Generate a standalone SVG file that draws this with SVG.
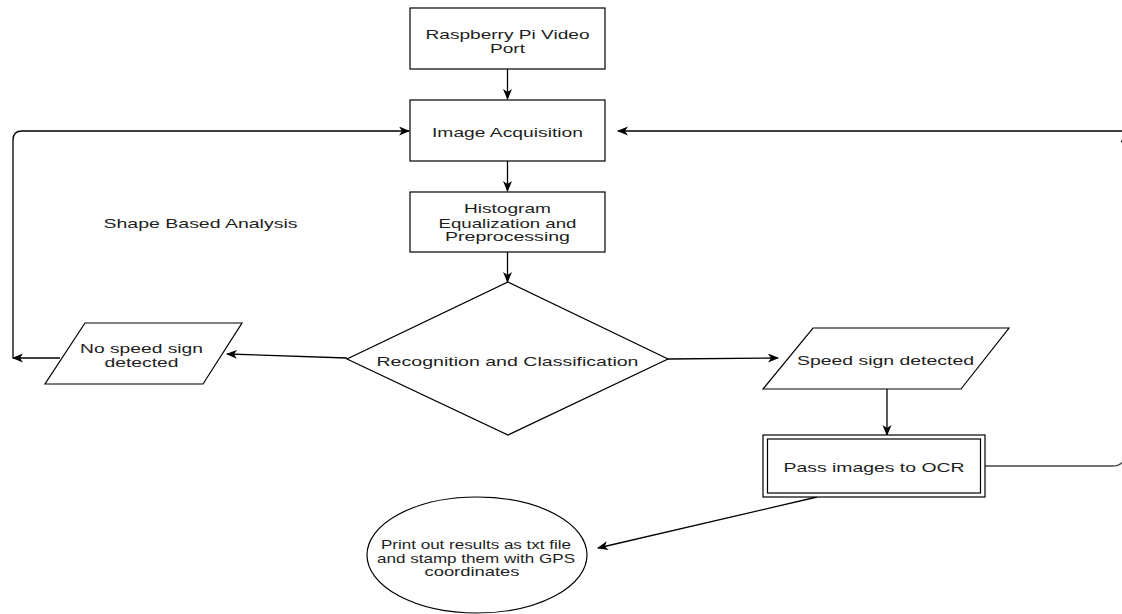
<svg xmlns="http://www.w3.org/2000/svg" width="1122" height="614" viewBox="0 0 1122 614">
<style>
.shape{fill:#fff;stroke:#000;stroke-width:1.2}
.t{font-family:"Liberation Sans",Arial,Helvetica,sans-serif;font-size:13px;fill:#1e1e1e;text-anchor:middle}
.c{fill:none;stroke:#000;stroke-width:1.3}
.g{fill:none;stroke:#444;stroke-width:1.3}
</style>
<defs>
<marker id="arr" markerUnits="userSpaceOnUse" markerWidth="12" markerHeight="10" refX="10" refY="4.5" orient="auto">
<path d="M0,0 L11,4.5 L0,9 L3,4.5 Z" fill="#000"/>
</marker>
</defs>
<rect width="1122" height="614" fill="#fff"/>
<g id="connectors">
<path class="c" d="M507.5,69 V99" marker-end="url(#arr)"/>
<path class="c" d="M507.5,161 V191" marker-end="url(#arr)"/>
<path class="c" d="M507.5,252 V282" marker-end="url(#arr)"/>
<path class="c" d="M347,358 L227,354" marker-end="url(#arr)"/>
<path class="c" d="M60,358 H13" marker-end="url(#arr)"/>
<path class="c" d="M13,358 V140 Q13,131 22,131 H409" marker-end="url(#arr)"/>
<path class="c" d="M668,359 L778,358" marker-end="url(#arr)"/>
<path class="c" d="M887,389 V435" marker-end="url(#arr)"/>
<path class="g" d="M985,466 H1112 Q1125,466 1125,453 V133" marker-end="url(#arr)"/>
<path class="c" d="M1122,131 H618" marker-end="url(#arr)"/>
<path class="c" d="M817,497 L598,548" marker-end="url(#arr)"/>
</g>
<g id="node-raspberry">
<rect class="shape" x="410" y="8" width="195" height="61"/>
<text class="t" x="507.5" y="38.5" textLength="164" lengthAdjust="spacingAndGlyphs">Raspberry Pi Video</text>
<text class="t" x="507.5" y="52.5" textLength="35" lengthAdjust="spacingAndGlyphs">Port</text>
</g>
<g id="node-acquisition">
<rect class="shape" x="410" y="100" width="195" height="61"/>
<text class="t" x="507.5" y="137" textLength="151" lengthAdjust="spacingAndGlyphs">Image Acquisition</text>
</g>
<g id="node-histogram">
<rect class="shape" x="410" y="192" width="195" height="60"/>
<text class="t" x="507.5" y="213" textLength="87" lengthAdjust="spacingAndGlyphs">Histogram</text>
<text class="t" x="507.5" y="227.5" textLength="138" lengthAdjust="spacingAndGlyphs">Equalization and</text>
<text class="t" x="507.5" y="241" textLength="125" lengthAdjust="spacingAndGlyphs">Preprocessing</text>
</g>
<g id="node-recognition">
<polygon class="shape" points="508,282 668,359 508,435 347,359"/>
<text class="t" x="507.5" y="366" textLength="262" lengthAdjust="spacingAndGlyphs">Recognition and Classification</text>
</g>
<g id="label-shape">
<text class="t" x="200.5" y="228" textLength="194" lengthAdjust="spacingAndGlyphs">Shape Based Analysis</text>
</g>
<g id="node-nospeed">
<polygon class="shape" points="85,323 242,323 203,384 45,384"/>
<text class="t" x="141.5" y="353" textLength="123" lengthAdjust="spacingAndGlyphs">No speed sign</text>
<text class="t" x="141.5" y="367" textLength="74" lengthAdjust="spacingAndGlyphs">detected</text>
</g>
<g id="node-speed">
<polygon class="shape" points="813,328 1009,328 961,389 763,389"/>
<text class="t" x="885.5" y="365" textLength="177" lengthAdjust="spacingAndGlyphs">Speed sign detected</text>
</g>
<g id="node-ocr">
<rect class="shape" x="763" y="435" width="222" height="62"/>
<rect class="shape" x="767.5" y="439" width="213" height="54"/>
<text class="t" x="874" y="471.5" textLength="181" lengthAdjust="spacingAndGlyphs">Pass images to OCR</text>
</g>
<g id="node-print">
<ellipse class="shape" cx="477" cy="555" rx="110" ry="58"/>
<text class="t" x="476" y="549" textLength="190" lengthAdjust="spacingAndGlyphs">Print out results as txt file</text>
<text class="t" x="476" y="562.5" textLength="198" lengthAdjust="spacingAndGlyphs">and stamp them with GPS</text>
<text class="t" x="472" y="576" textLength="95" lengthAdjust="spacingAndGlyphs">coordinates</text>
</g>
</svg>
